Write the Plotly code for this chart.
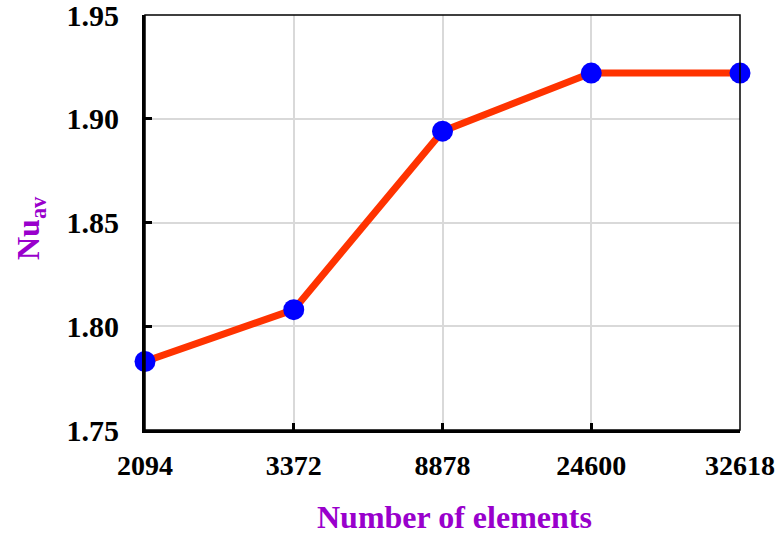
import plotly.graph_objects as go

elements = ["2094", "3372", "8878", "24600", "32618"]
nu_av = [1.783, 1.808, 1.894, 1.922, 1.922]
y_ticks = [1.75, 1.80, 1.85, 1.90, 1.95]

FONT = "Liberation Serif"
PURPLE = "#9900CC"

fig = go.Figure()
fig.add_trace(go.Scatter(
    x=elements, y=nu_av, mode="lines+markers",
    line=dict(color="#FF3300", width=7),
    marker=dict(color="#0000FF", size=21),
    cliponaxis=False, showlegend=False,
))

fig.update_layout(
    width=779, height=535,
    margin=dict(l=145, r=39, t=15, b=105),
    plot_bgcolor="white", paper_bgcolor="white",
    font=dict(family=FONT, size=27, color="black"),
    xaxis=dict(
        type="category", range=[0, 4], automargin=False, ticklabeloverflow="allow",
        showgrid=True, gridcolor="#D9D9D9", gridwidth=1.5,
        showline=True, linecolor="black", linewidth=3,
        ticks="inside", ticklen=7, tickwidth=3, tickcolor="black",
        tickfont=dict(family=FONT, size=28, color="black", weight="bold"),
        ticklabelstandoff=8,
    ),
    yaxis=dict(
        range=[1.75, 1.95], tickvals=y_ticks, tickformat=".2f", automargin=False,
        ticklabeloverflow="allow",
        showgrid=True, gridcolor="#D9D9D9", gridwidth=1.5,
        showline=True, linecolor="black", linewidth=3,
        ticks="inside", ticklen=7, tickwidth=3, tickcolor="black",
        tickfont=dict(family=FONT, size=30, color="black", weight="bold"),
        ticklabelstandoff=17, zeroline=False,
    ),
    shapes=[dict(type="rect", xref="paper", yref="paper", x0=0, y0=0, x1=1, y1=1,
                 line=dict(color="black", width=1.5), layer="above")],
    annotations=[
        dict(text="<b>Number of elements</b>", xref="paper", yref="paper",
             x=(454 - 145) / 595, y=-(517 - 430) / 415, xanchor="center", yanchor="middle",
             showarrow=False, font=dict(family=FONT, size=32, color=PURPLE)),
        dict(text="<b>Nu<sub>av</sub></b>", xref="paper", yref="paper",
             x=-(145 - 30) / 595, y=(430 - 228) / 415, xanchor="center", yanchor="middle",
             textangle=-90, showarrow=False, font=dict(family=FONT, size=32, color=PURPLE)),
    ],
)

fig.write_html("out.html", config={"displayModeBar": False},
               post_script="document.body.style.margin='0';document.body.style.overflow='hidden';")
